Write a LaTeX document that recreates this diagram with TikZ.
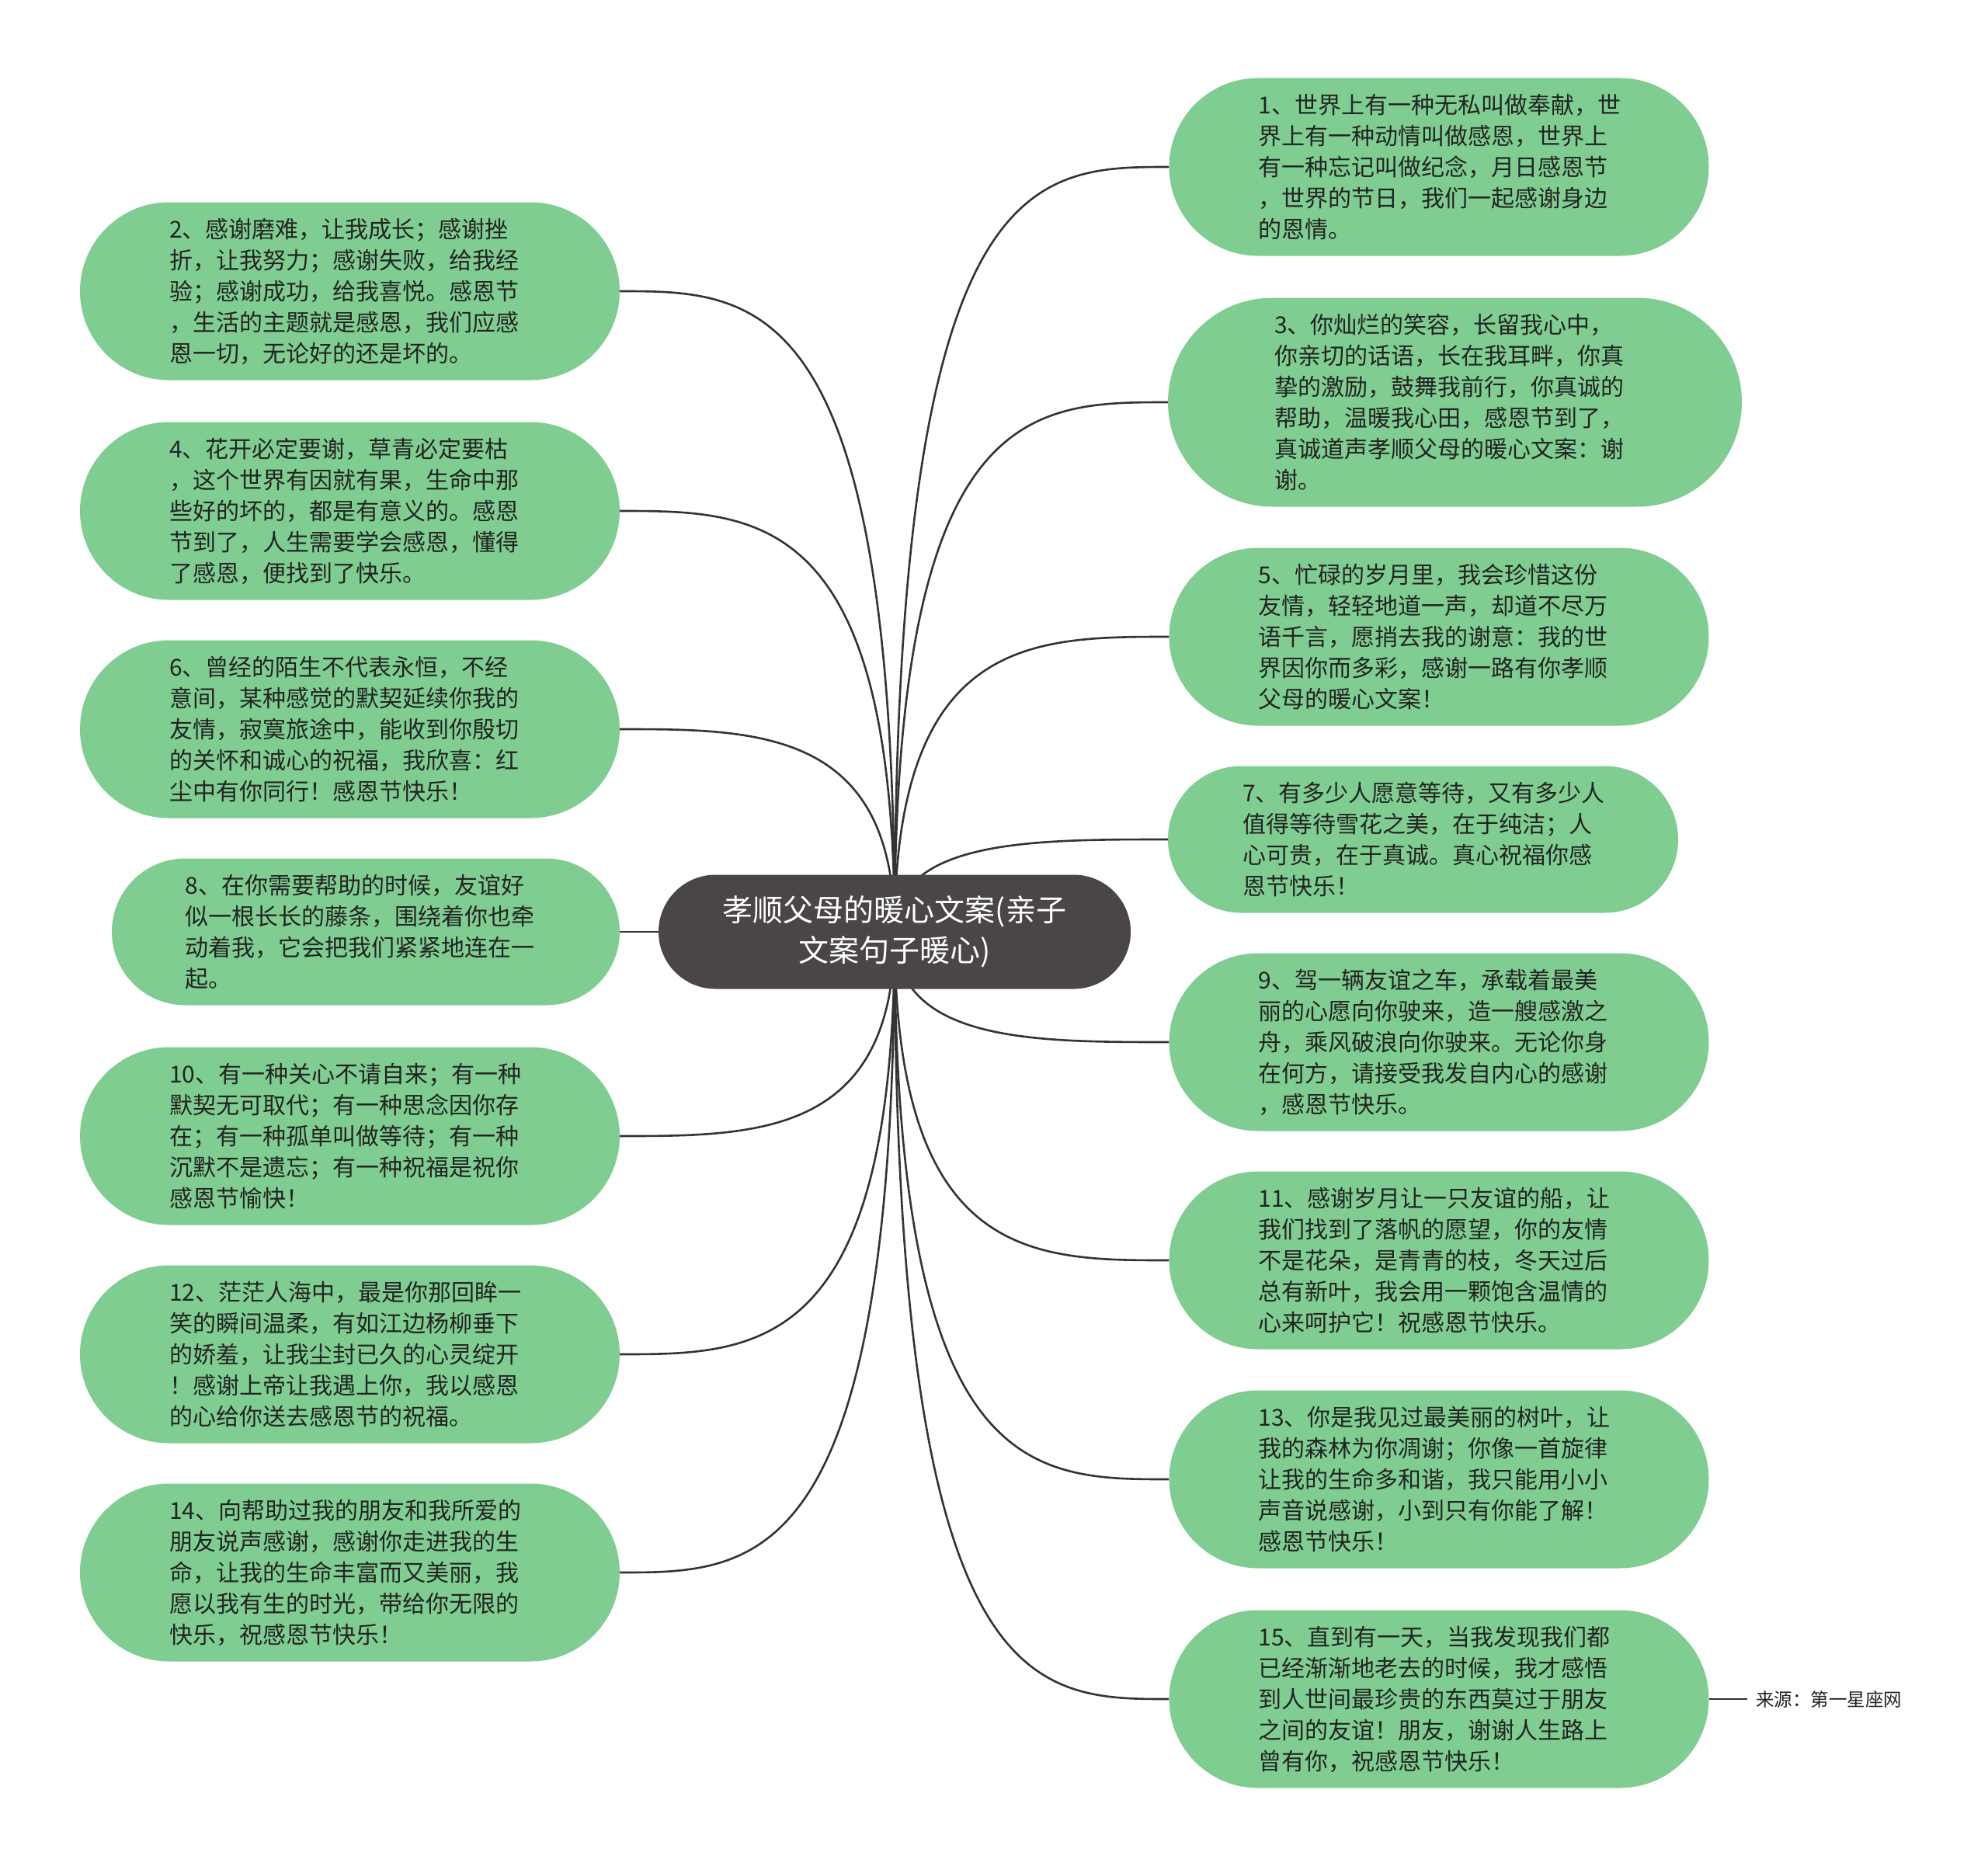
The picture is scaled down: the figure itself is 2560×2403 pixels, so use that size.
\documentclass[tikz,border=0pt]{standalone}
\usepackage{fontspec}
\newfontfamily\cjk{Noto Sans CJK SC}
\usetikzlibrary{shapes.misc,calc,backgrounds}
\definecolor{leafgreen}{RGB}{128,205,146}
\definecolor{centergray}{RGB}{74,69,70}
\definecolor{txt}{RGB}{35,35,35}
\definecolor{linecol}{RGB}{51,51,51}
\tikzset{
  leaf/.style={rounded rectangle, fill=leafgreen, text=txt,
    font=\cjk\fontsize{30}{40}\selectfont, text width=465pt, align=left,
    inner xsep=2pt, inner ysep=0pt, minimum width=699pt, minimum height=229pt},
  hub/.style={rounded rectangle, fill=centergray, text=white,
    font=\cjk\fontsize{39}{52}\selectfont, align=center,
    inner xsep=2pt, inner ysep=0pt, minimum width=612pt, minimum height=147pt},
  conn/.style={draw=linecol, line width=2.6pt},
  srclabel/.style={font=\cjk\fontsize{23.5}{28}\selectfont, text=txt, inner sep=0pt, anchor=west}
}
\newcommand{\rconn}[1]{\draw[conn] (c.center) .. controls (c.center |- #1.west) and ($(c.center |- #1.west)!0.5!(#1.west)$) .. (#1.west);}
\newcommand{\lconn}[1]{\draw[conn] (c.center) .. controls (c.center |- #1.east) and ($(c.center |- #1.east)!0.5!(#1.east)$) .. (#1.east);}
\begin{document}
\begin{tikzpicture}[x=1pt,y=-1pt]
\useasboundingbox (0,0) rectangle (2560,2403);

\node[hub] (c) at (1152,1200) {孝顺父母的暖心文案(亲子\\文案句子暖心)};

\node[leaf] (n1) at (1853,215) {1、世界上有一种无私叫做奉献，世\\界上有一种动情叫做感恩，世界上\\有一种忘记叫做纪念，月日感恩节\\，世界的节日，我们一起感谢身边\\的恩情。};
\node[leaf] (n2) at (450.5,375) {2、感谢磨难，让我成长；感谢挫\\折，让我努力；感谢失败，给我经\\验；感谢成功，给我喜悦。感恩节\\，生活的主题就是感恩，我们应感\\恩一切，无论好的还是坏的。};
\node[leaf, minimum width=743pt, minimum height=269pt] (n3) at (1873.5,518) {3、你灿烂的笑容，长留我心中，\\你亲切的话语，长在我耳畔，你真\\挚的激励，鼓舞我前行，你真诚的\\帮助，温暖我心田，感恩节到了，\\真诚道声孝顺父母的暖心文案：谢\\谢。};
\node[leaf] (n4) at (450.5,658) {4、花开必定要谢，草青必定要枯\\，这个世界有因就有果，生命中那\\些好的坏的，都是有意义的。感恩\\节到了，人生需要学会感恩，懂得\\了感恩，便找到了快乐。};
\node[leaf] (n5) at (1853,820) {5、忙碌的岁月里，我会珍惜这份\\友情，轻轻地道一声，却道不尽万\\语千言，愿捎去我的谢意：我的世\\界因你而多彩，感谢一路有你孝顺\\父母的暖心文案！};
\node[leaf] (n6) at (450.5,939) {6、曾经的陌生不代表永恒，不经\\意间，某种感觉的默契延续你我的\\友情，寂寞旅途中，能收到你殷切\\的关怀和诚心的祝福，我欣喜：红\\尘中有你同行！感恩节快乐！};
\node[leaf, minimum width=661pt, minimum height=189pt] (n7) at (1832.5,1081) {7、有多少人愿意等待，又有多少人\\值得等待雪花之美，在于纯洁；人\\心可贵，在于真诚。真心祝福你感\\恩节快乐！};
\node[leaf, minimum width=658pt, minimum height=189pt] (n8) at (471,1200) {8、在你需要帮助的时候，友谊好\\似一根长长的藤条，围绕着你也牵\\动着我，它会把我们紧紧地连在一\\起。};
\node[leaf] (n9) at (1853,1342) {9、驾一辆友谊之车，承载着最美\\丽的心愿向你驶来，造一艘感激之\\舟，乘风破浪向你驶来。无论你身\\在何方，请接受我发自内心的感谢\\，感恩节快乐。};
\node[leaf] (n10) at (450.5,1463) {10、有一种关心不请自来；有一种\\默契无可取代；有一种思念因你存\\在；有一种孤单叫做等待；有一种\\沉默不是遗忘；有一种祝福是祝你\\感恩节愉快！};
\node[leaf] (n11) at (1853,1623) {11、感谢岁月让一只友谊的船，让\\我们找到了落帆的愿望，你的友情\\不是花朵，是青青的枝，冬天过后\\总有新叶，我会用一颗饱含温情的\\心来呵护它！祝感恩节快乐。};
\node[leaf] (n12) at (450.5,1744) {12、茫茫人海中，最是你那回眸一\\笑的瞬间温柔，有如江边杨柳垂下\\的娇羞，让我尘封已久的心灵绽开\\！感谢上帝让我遇上你，我以感恩\\的心给你送去感恩节的祝福。};
\node[leaf] (n13) at (1853,1905) {13、你是我见过最美丽的树叶，让\\我的森林为你凋谢；你像一首旋律\\让我的生命多和谐，我只能用小小\\声音说感谢，小到只有你能了解！\\感恩节快乐！};
\node[leaf] (n14) at (450.5,2025) {14、向帮助过我的朋友和我所爱的\\朋友说声感谢，感谢你走进我的生\\命，让我的生命丰富而又美丽，我\\愿以我有生的时光，带给你无限的\\快乐，祝感恩节快乐！};
\node[leaf] (n15) at (1853,2188) {15、直到有一天，当我发现我们都\\已经渐渐地老去的时候，我才感悟\\到人世间最珍贵的东西莫过于朋友\\之间的友谊！朋友，谢谢人生路上\\曾有你，祝感恩节快乐！};

\node[srclabel] (src) at (2261,2188) {来源：第一星座网};

\begin{scope}[on background layer]
  \fill[white] (0,0) rectangle (2560,2403);
  \rconn{n1}\rconn{n3}\rconn{n5}\rconn{n7}\rconn{n9}\rconn{n11}\rconn{n13}\rconn{n15}
  \lconn{n2}\lconn{n4}\lconn{n6}\lconn{n10}\lconn{n12}\lconn{n14}
  \draw[conn] (c.center) -- (n8.east);
  \draw[conn] (n15.east) -- ([xshift=-11pt]src.west);
\end{scope}
\end{tikzpicture}
\end{document}
